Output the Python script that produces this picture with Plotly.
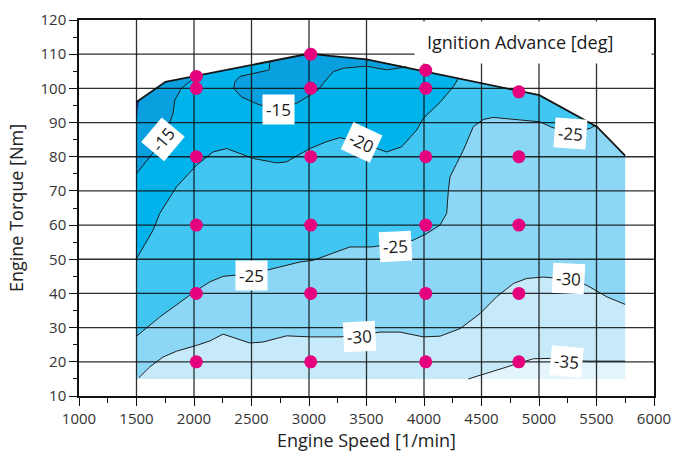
import plotly.graph_objects as go

FONT = "Open Sans"

# Outer limit of the mapped area (full-load line on top)
top_x = [1500, 1752, 3008, 3182, 3501, 5003, 5503, 5749]
top_y = [96.0, 101.9, 110.2, 109.5, 108.5, 98.0, 88.8, 80.3]
x_min_map, x_max_map, y_floor = 1500, 5749, 15

# Iso-lines of ignition advance [deg]
l15a_x = [1500, 1557, 1640, 1731, 1818, 1833, 1891, 1963, 2022]
l15a_y = [75.1, 77.5, 81.0, 84.8, 92.7, 96.6, 100.0, 101.9, 103.6]

l15b_x = [2660, 2654, 2631, 2399, 2355, 2346, 2413, 2573, 2747, 2892, 3008, 3080,
          3124, 3211, 3298, 3501, 3675, 3791, 3849]
l15b_y = [107.9, 105.4, 105.2, 103.5, 101.9, 100.0, 97.5, 95.1, 94.6, 95.6, 98.0, 99.6,
          101.5, 104.9, 105.9, 106.5, 105.4, 105.9, 106.3]

l20_x = [1500, 1644, 1702, 1848, 2022, 2166, 2283, 2514, 2718, 2805, 3008, 3153,
         3269, 3458, 3675, 3806, 3936, 3994, 4139, 4255, 4299]
l20_y = [50.2, 58.5, 63.4, 71.2, 77.5, 81.4, 82.4, 79.5, 78.2, 78.5, 82.4, 84.4,
         85.6, 84.0, 81.4, 82.9, 87.8, 91.2, 95.9, 100.5, 102.9]

l25_x = [1500, 1702, 2001, 2138, 2253, 2500, 2631, 2805, 2921, 3037, 3269, 3356,
         3540, 3748, 3907, 4023, 4139, 4197, 4212, 4226, 4284, 4342, 4429, 4516,
         4603, 4864, 5010, 5097, 5271, 5445, 5488]
l25_y = [27.5, 33.1, 40.4, 43.4, 45.0, 45.8, 46.8, 48.3, 49.2, 49.7, 52.7, 53.6,
         53.6, 54.5, 55.6, 57.5, 60.0, 63.4, 70.2, 74.1, 78.0, 81.9, 88.8, 90.9,
         91.5, 90.7, 90.2, 88.8, 86.8, 88.3, 89.1]

l30_x = [1522, 1615, 1731, 1848, 2022, 2138, 2253, 2399, 2486, 2601, 2805, 3008,
         3269, 3443, 3617, 3791, 3994, 4139, 4313, 4487, 4632, 4777, 4894, 5038,
         5256, 5415, 5590, 5749]
l30_y = [15.4, 18.5, 21.4, 23.1, 24.8, 26.1, 28.1, 26.6, 25.5, 25.8, 27.6, 27.3,
         27.3, 27.8, 28.7, 28.7, 27.3, 27.5, 29.7, 34.1, 39.0, 42.9, 44.4, 44.8,
         44.2, 42.4, 39.0, 36.8]

l35_x = [4386, 4574, 4777, 4951, 5100, 5300, 5415, 5749]
l35_y = [15.0, 17.0, 19.2, 20.9, 21.0, 20.5, 20.2, 20.2]

# Small pocket of very early ignition at the low-speed full-load corner
pocket_x = [1500, 1500, 1526, 1510]
pocket_y = [90.0, 96.0, 96.6, 93.5]

# Band fill colours, from earliest to latest ignition
band_colors = {
    "pocket": "#2B3A8F",
    "-15": "#0A9FDE",
    "-20": "#00B3EB",
    "-25": "#41C6F1",
    "-30": "#8DD7F6",
    "-35": "#C6EAF9",
    "low": "#E3F4FC",
}

# Measurement points
meas_x = [2020] * 6 + [3015] * 6 + [4015] * 6 + [4825] * 5
meas_y = [20, 40, 60, 80, 100, 103.5,
          20, 40, 60, 80, 100, 110,
          20, 40, 60, 80, 100, 105.3,
          20, 40, 60, 80, 99]

# Iso-line labels: text, speed, torque, rotation
label_text = ["-15", "-15", "-20", "-25", "-25", "-25", "-30", "-30", "-35"]
label_x = [1731, 2732, 3458, 2500, 3748, 5271, 3443, 5256, 5242]
label_y = [84.9, 93.8, 84.1, 45.3, 53.6, 86.8, 27.5, 44.4, 20.0]
label_rot = [-50, 0, 25, 0, -3, 4, -3, 3, 5]

x_ticks = list(range(1000, 6001, 500))
y_ticks = list(range(10, 121, 10))


def region_above(lx, ly, x_lo, extra=()):
    """Polygon between an iso-line and the full-load limit above it."""
    xs, ys = list(lx), list(ly)
    x_end, y_end = lx[-1], ly[-1]
    for tx, ty in reversed(list(zip(top_x, top_y))):
        if tx >= x_lo and (tx < x_end or (tx == x_end and ty > y_end)):
            xs.append(tx)
            ys.append(ty)
    for ex, ey in extra:
        xs.append(ex)
        ys.append(ey)
    return xs, ys


fig = go.Figure()


def add_fill(xs, ys, color):
    fig.add_trace(go.Scatter(x=xs, y=ys, fill="toself", fillcolor=color,
                             mode="lines", line=dict(width=0, color=color),
                             hoverinfo="skip", showlegend=False))


# whole map
env_x = [x_min_map] + top_x + [x_max_map]
env_y = [y_floor] + top_y + [y_floor]
add_fill(env_x, env_y, band_colors["low"])
add_fill(*region_above(l35_x, l35_y, x_min_map, [(x_min_map, y_floor)]), band_colors["-35"])
add_fill(*region_above(l30_x, l30_y, x_min_map, [(x_min_map, y_floor)]), band_colors["-30"])
add_fill(*region_above(l25_x, l25_y, x_min_map), band_colors["-25"])
add_fill(*region_above(l20_x, l20_y, x_min_map), band_colors["-20"])
add_fill(*region_above(l15a_x, l15a_y, x_min_map), band_colors["-15"])
add_fill(*region_above(l15b_x, l15b_y, l15b_x[0] + 1), band_colors["-15"])
add_fill(pocket_x, pocket_y, band_colors["pocket"])

# iso-lines
for lx, ly in [(l15a_x, l15a_y), (l15b_x, l15b_y), (l20_x, l20_y),
               (l25_x, l25_y), (l30_x, l30_y), (l35_x, l35_y)]:
    fig.add_trace(go.Scatter(x=lx, y=ly, mode="lines",
                             line=dict(color="#1e1e1e", width=1),
                             hoverinfo="skip", showlegend=False))

# full-load line
fig.add_trace(go.Scatter(x=top_x, y=top_y, mode="lines",
                         line=dict(color="#151515", width=1.8),
                         hoverinfo="skip", showlegend=False))

# grid drawn over the coloured bands
gx, gy = [], []
for xv in x_ticks[1:-1]:
    gx += [xv, xv, None]
    gy += [y_ticks[0], y_ticks[-1], None]
for yv in y_ticks[1:-1]:
    gx += [x_ticks[0], x_ticks[-1], None]
    gy += [yv, yv, None]
fig.add_trace(go.Scatter(x=gx, y=gy, mode="lines",
                         line=dict(color="rgba(10,10,10,0.85)", width=1.3),
                         hoverinfo="skip", showlegend=False))

# measurement points
fig.add_trace(go.Scatter(x=meas_x, y=meas_y, mode="markers",
                         marker=dict(color="#E5007E", size=13, line=dict(width=0)),
                         hoverinfo="skip", showlegend=False, cliponaxis=False))

for t, lx, ly, rot in zip(label_text, label_x, label_y, label_rot):
    fig.add_annotation(x=lx, y=ly, text=t, showarrow=False, textangle=rot,
                       bgcolor="white", borderpad=3,
                       font=dict(family=FONT, size=17, color="#1a1a1a"))

# white panel behind the chart title, top right corner of the plot
fig.add_annotation(xref="paper", yref="paper", x=1.0, y=1.0, xanchor="right", yanchor="top",
                   xshift=-2, yshift=-1, width=236, height=41, text="&nbsp;",
                   bgcolor="white", borderpad=0, showarrow=False)
fig.add_annotation(xref="paper", yref="paper", x=0.767, y=0.941,
                   xanchor="center", yanchor="middle",
                   text="Ignition Advance [deg]", showarrow=False,
                   font=dict(family=FONT, size=18, color="#1a1a1a"))

axis_common = dict(
    showgrid=False, zeroline=False, showline=True, mirror=True, automargin=False,
    linecolor="#111", linewidth=1.5, ticks="outside", ticklen=8, tickwidth=1.2,
    tickcolor="#111", tickfont=dict(family=FONT, size=15, color="#333"),
)

fig.update_xaxes(range=[x_ticks[0], x_ticks[-1]], tickvals=x_ticks,
                 minor=dict(ticks="outside", ticklen=5, dtick=250, tickcolor="#111", showgrid=False),
                 title=dict(text="Engine Speed [1/min]", standoff=14,
                            font=dict(family=FONT, size=18, color="#222")),
                 **axis_common)
fig.update_yaxes(range=[y_ticks[0], y_ticks[-1]], tickvals=y_ticks,
                 minor=dict(ticks="outside", ticklen=4, dtick=5, tickcolor="#111", showgrid=False),
                 title=dict(text="Engine Torque [Nm]", standoff=12,
                            font=dict(family=FONT, size=18, color="#222")),
                 **axis_common)

fig.update_layout(width=673, height=452, margin=dict(l=79, r=19, t=20, b=56),
                  paper_bgcolor="white", plot_bgcolor="white", showlegend=False)

fig.write_html("out.html")
